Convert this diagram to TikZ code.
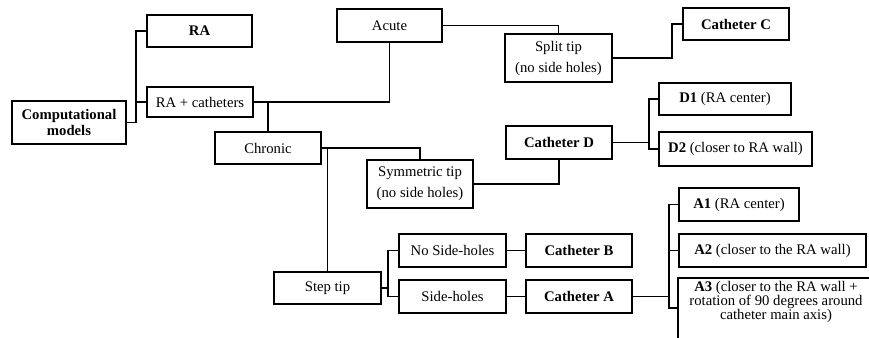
\documentclass[tikz,border=0pt]{standalone}
\usepackage{fontspec}
\setmainfont{Liberation Serif}
\begin{document}
\begin{tikzpicture}[x=1pt,y=-1pt,
  box/.style={draw, line width=1.6pt, inner sep=0pt, align=center,
    font=\fontsize{14.7}{15.5}\selectfont},
  box2/.style={box, font=\fontsize{14.7}{21}\selectfont},
  conn/.style={line width=1.6pt}]
\useasboundingbox (0,0) rectangle (869,337);
% nodes
\node[box, minimum width=114, minimum height=43] (comp) at (69,122.5) {\textbf{Computational}\\\textbf{models}};
\node[box, minimum width=105, minimum height=32] (RA) at (199.5,31) {\textbf{RA}};
\node[box, minimum width=106, minimum height=30] (RAc) at (200,102) {RA + catheters};
\node[box, minimum width=106, minimum height=32] (chronic) at (268,148) {Chronic};
\node[box, minimum width=105, minimum height=33] (acute) at (389.5,25.5) {Acute};
\node[box2, minimum width=107, minimum height=48] (split) at (558.5,58) {Split tip\\(no side holes)};
\node[box, minimum width=106, minimum height=32] (catC) at (736,24) {\textbf{Catheter C}};
\node[box, minimum width=106, minimum height=33] (catD) at (559,142.5) {\textbf{Catheter D}};
\node[box, minimum width=132, minimum height=32] (D1) at (725,99) {\textbf{D1} (RA center)};
\node[box, minimum width=153, minimum height=34] (D2) at (735.5,149) {\textbf{D2} (closer to RA wall)};
\node[box2, minimum width=106, minimum height=48] (sym) at (420,184) {Symmetric tip\\(no side holes)};
\node[box, minimum width=107, minimum height=32] (step) at (327.5,288) {Step tip};
\node[box, minimum width=107, minimum height=33] (noside) at (452.5,250.5) {No Side-holes};
\node[box, minimum width=107, minimum height=33] (side) at (452.5,296.5) {Side-holes};
\node[box, minimum width=106, minimum height=33] (catB) at (579,250.5) {\textbf{Catheter B}};
\node[box, minimum width=106, minimum height=33] (catA) at (579,296.5) {\textbf{Catheter A}};
\node[box, minimum width=120, minimum height=33] (A1) at (739,204.5) {\textbf{A1} (RA center)};
\node[box, minimum width=187, minimum height=33] (A2) at (772.5,250.5) {\textbf{A2} (closer to the RA wall)};
\node[box, draw=none, minimum width=194, minimum height=46, font=\fontsize{14.7}{13.6}\selectfont] (A3) at (776,302)
  {\textbf{A3} (closer to the RA wall +\\rotation of 90 degrees around\\catheter main axis)};
\draw[conn] (A3.north west) rectangle ([yshift=-20pt]A3.south east);
% junction coordinates
\coordinate (j1) at (136,0);
\coordinate (j2) at (672,0);
\coordinate (j3) at (649,0);
\coordinate (j4) at (388,0);
\coordinate (j5) at (669,0);
\coordinate (A3w) at ([yshift=-6pt]A3.west);
% connectors
\draw[conn] (comp.east) -- (comp.east -| j1) |- (RA.west);
\draw[conn] (comp.east -| j1) |- (RAc.west);
\draw[conn] (RAc.east) -| (acute.south);
\draw[conn] (RAc.east -| chronic.north) -- (chronic.north);
\draw[conn] (acute.east) -| (split.north);
\draw[conn] (split.east) -- (split.east -| j2) |- (catC.west);
\draw[conn] (chronic.east) -| (sym.north);
\draw[conn] (chronic.east -| step.north) -- (step.north);
\draw[conn] (sym.east) -| (catD.south);
\draw[conn] (catD.east) -- (catD.east -| j3);
\draw[conn] (D1.west) -| (j3 |- D2.west) -- (D2.west);
\draw[conn] (step.east) -- (step.east -| j4);
\draw[conn] (noside.west) -| (j4 |- side.west) -- (side.west);
\draw[conn] (noside.east) -- (catB.west);
\draw[conn] (side.east) -- (catA.west);
\draw[conn] (catA.east) -- (catA.east -| j5);
\draw[conn] (A1.west) -| (j5 |- A3w) -- (A3w);
\draw[conn] (A2.west) -- (A2.west -| j5);
\end{tikzpicture}
\end{document}
